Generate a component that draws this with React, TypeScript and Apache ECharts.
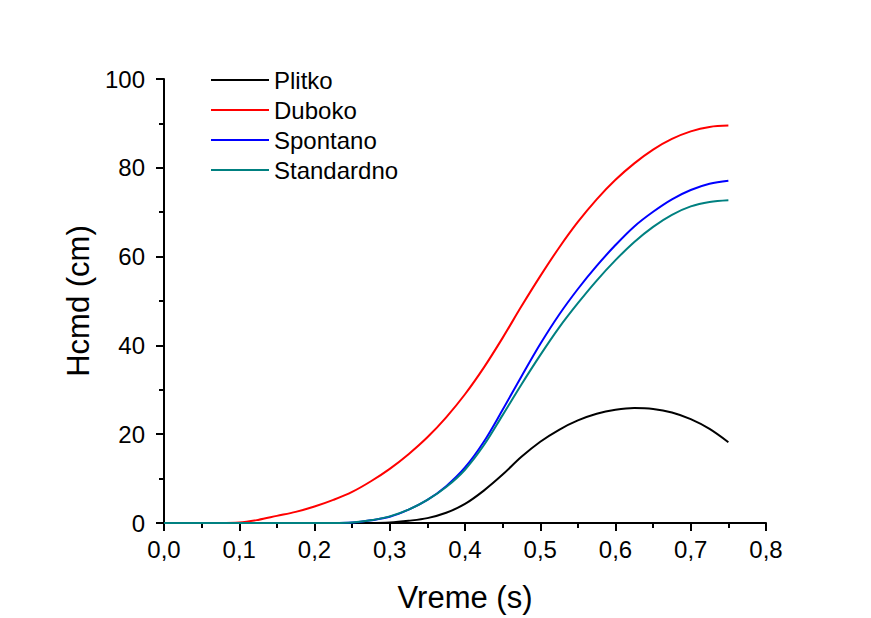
import React, { useEffect, useRef } from "react";
import * as echarts from "echarts";

const times = [
  0, 0.025, 0.05, 0.075, 0.1, 0.125, 0.15, 0.175, 0.2, 0.225, 0.25, 0.275, 0.3, 0.325, 0.35,
  0.375, 0.4, 0.425, 0.45, 0.475, 0.5, 0.525, 0.55, 0.575, 0.6, 0.625, 0.65, 0.675, 0.7, 0.725, 0.75,
];

const plitko = [
  0, 0, 0, 0, 0, 0, 0, 0, 0, 0, 0, 0, 0.1, 0.5, 1.1,
  2.3, 4.3, 7.3, 10.9, 14.9, 18.3, 21.0, 23.1, 24.6, 25.5, 25.9, 25.7, 24.9, 23.4, 21.2, 18.2,
];
const duboko = [
  0, 0, 0, 0, 0.1, 0.7, 1.6, 2.5, 3.7, 5.2, 7.0, 9.4, 12.2, 15.5, 19.3,
  23.8, 29.0, 35.0, 41.7, 48.8, 55.6, 62.0, 67.8, 72.9, 77.3, 81.0, 84.1, 86.5, 88.2, 89.2, 89.5,
];
const spontano = [
  0, 0, 0, 0, 0, 0, 0, 0, 0, 0, 0.1, 0.6, 1.4, 3.0, 5.2,
  8.3, 12.5, 18.3, 25.5, 33.0, 40.3, 46.9, 52.7, 57.9, 62.6, 66.8, 70.1, 72.9, 75.0, 76.4, 77.1,
];
const standardno = [
  0, 0, 0, 0, 0, 0, 0, 0, 0, 0, 0.1, 0.6, 1.5, 3.0, 5.2,
  8.1, 12.0, 17.5, 24.3, 31.2, 37.8, 44.0, 49.5, 54.6, 59.2, 63.3, 66.7, 69.4, 71.3, 72.3, 72.7,
];

const seriesNames = ["Plitko", "Duboko", "Spontano", "Standardno"];
const seriesValues = [plitko, duboko, spontano, standardno];
const seriesColors = ["#000000", "#ff0000", "#0000ff", "#008080"];

const FONT = "Liberation Sans, Arial, sans-serif";

export default function App() {
  const ref = useRef<HTMLDivElement>(null);
  useEffect(() => {
    if (!ref.current) return;
    const chart = echarts.init(ref.current, undefined, { renderer: "svg" });
    chart.setOption({
      animation: false,
      backgroundColor: "#ffffff",
      grid: { left: 164, right: 105, top: 79, bottom: 93 },
      legend: {
        orient: "vertical",
        left: 206,
        top: 63,
        icon: "rect",
        itemWidth: 58,
        itemHeight: 2,
        itemGap: 6,
        data: seriesNames,
        textStyle: { fontFamily: FONT, fontSize: 24, color: "#000" },
      },
      xAxis: {
        type: "value",
        min: 0,
        max: 0.8,
        interval: 0.1,
        name: "Vreme (s)",
        nameLocation: "middle",
        nameGap: 59,
        nameTextStyle: { fontFamily: FONT, fontSize: 31, color: "#000" },
        axisLine: { show: true, onZero: false, lineStyle: { color: "#000", width: 2 } },
        axisTick: { show: true, length: 8, lineStyle: { color: "#000", width: 2 } },
        minorTick: { show: true, splitNumber: 2, length: 5, lineStyle: { color: "#000", width: 2 } },
        splitLine: { show: false },
        axisLabel: {
          fontFamily: FONT,
          fontSize: 24,
          color: "#000",
          margin: 14,
          formatter: (v: number) => v.toFixed(1).replace(".", ","),
        },
      },
      yAxis: {
        type: "value",
        min: 0,
        max: 100,
        interval: 20,
        name: "Hcmd (cm)",
        nameLocation: "middle",
        nameGap: 62,
        nameTextStyle: { fontFamily: FONT, fontSize: 31, color: "#000" },
        axisLine: { show: true, onZero: false, lineStyle: { color: "#000", width: 2 } },
        axisTick: { show: true, length: 8, lineStyle: { color: "#000", width: 2 } },
        minorTick: { show: true, splitNumber: 2, length: 5, lineStyle: { color: "#000", width: 2 } },
        splitLine: { show: false },
        axisLabel: { fontFamily: FONT, fontSize: 24, color: "#000", margin: 19 },
      },
      series: seriesNames.map((name, i) => ({
        name,
        type: "line",
        smooth: 0.35,
        symbol: "none",
        color: seriesColors[i],
        lineStyle: { color: seriesColors[i], width: 2 },
        data: times.map((t, j) => [t, seriesValues[i][j]]),
      })),
    });
    return () => chart.dispose();
  }, []);
  return (
    <div
      ref={ref}
      style={{ position: "fixed", left: 0, top: 0, width: 871, height: 618, background: "#fff" }}
    />
  );
}
